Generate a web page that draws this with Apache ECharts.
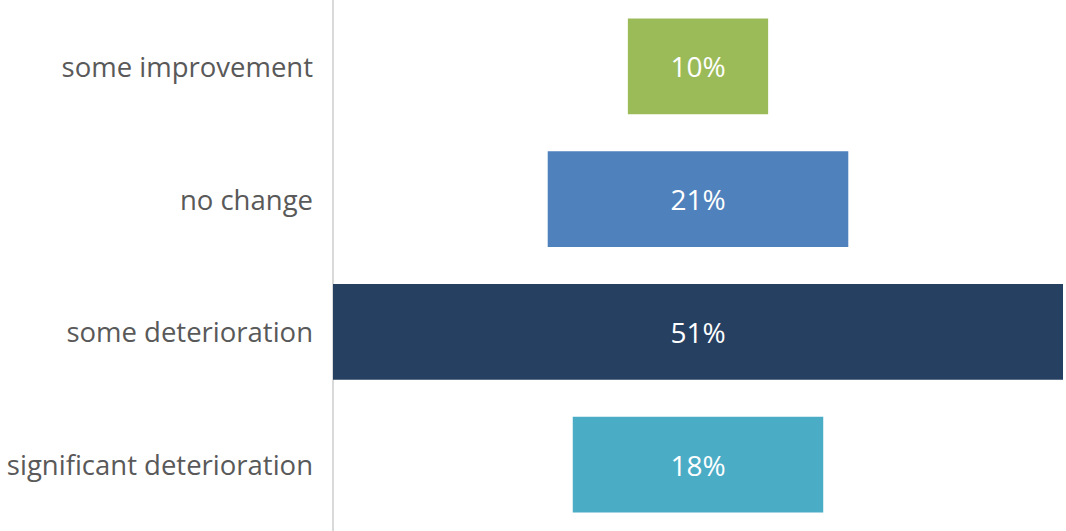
<!DOCTYPE html>
<html>
<head>
<meta charset="utf-8">
<script src="https://cdn.jsdelivr.net/npm/echarts@6/dist/echarts.min.js"></script>
<style>
  html, body { margin: 0; padding: 0; background: #fff; }
  #chart { width: 1066px; height: 531px; }
</style>
</head>
<body>
<div id="chart"></div>
<script>
const categories = ['some improvement', 'no change', 'some deterioration', 'significant deterioration']
// shares; labels show them rounded
const shares = [9.8, 21, 51, 17.5]
const barColors = ['#9BBB59', '#4F81BD', '#264061', '#4BACC6']

const maxShare = Math.max(...shares)
// invisible offset so each bar sits centred on the widest one
const offsets = shares.map(v => (maxShare - v) / 2)

const chart = echarts.init(document.getElementById('chart'), null, { renderer: 'svg' })

chart.setOption({
  animation: false,
  grid: { left: 333, right: 3, top: 0, bottom: 0 },
  xAxis: {
    type: 'value',
    min: 0,
    max: maxShare,
    show: false
  },
  yAxis: {
    type: 'category',
    inverse: true,
    data: categories,
    axisLine: { show: true, lineStyle: { color: '#D9D9D9', width: 2 } },
    axisTick: { show: false },
    axisLabel: {
      color: '#595959',
      fontSize: 27.5,
      fontFamily: 'Open Sans',
      margin: 20
    }
  },
  series: [
    {
      type: 'bar',
      stack: 'funnel',
      data: offsets,
      itemStyle: { color: 'transparent' },
      silent: true,
      barCategoryGap: '28%'
    },
    {
      type: 'bar',
      stack: 'funnel',
      data: shares.map((v, i) => ({ value: v, itemStyle: { color: barColors[i] } })),
      barCategoryGap: '28%',
      label: {
        show: true,
        position: 'inside',
        color: '#fff',
        fontSize: 28,
        fontFamily: 'Open Sans',
        formatter: p => Math.round(p.value) + '%'
      }
    }
  ]
})
</script>
</body>
</html>
